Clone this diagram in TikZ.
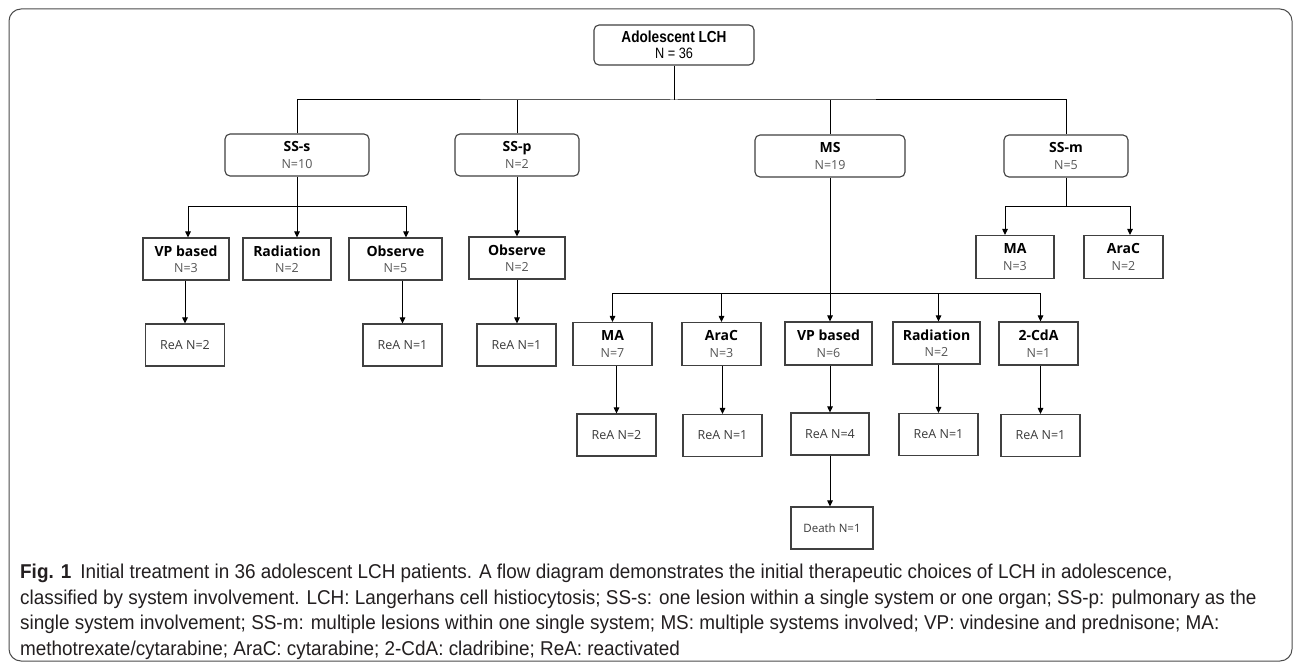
\documentclass[tikz,border=0pt]{standalone}
\usepackage{fontspec}
\setmainfont{Open Sans}
\newfontfamily\condfont[FakeStretch=0.85]{Liberation Sans}
\newfontfamily\capfont[FakeStretch=0.945]{Liberation Sans}
\usetikzlibrary{arrows.meta}
\definecolor{boxline}{HTML}{404040}
\definecolor{ntext}{HTML}{555555}
\definecolor{reatext}{HTML}{3A3A3A}
\definecolor{captext}{HTML}{231F20}
\tikzset{
  base/.style={draw=boxline, line width=1.1pt, align=center, inner sep=0pt, text=black,
               font=\fontsize{12.5}{16.5}\selectfont},
  rbox/.style={base, rounded corners=5pt, minimum height=42pt},
  sbox/.style={base, minimum height=42pt},
  rea/.style={base, minimum height=42pt, minimum width=79pt, font=\fontsize{12.5}{15}\selectfont, text=reatext},
  conn/.style={line width=1pt, draw=black},
  arr/.style={conn, -{Triangle[length=6pt,width=5.5pt]}},
}
\newcommand{\bt}[2]{{\fontsize{14}{16.5}\selectfont\bfseries #1}\\{\color{ntext}#2}}
\begin{document}
\begin{tikzpicture}[x=1pt,y=-1pt]
\useasboundingbox (0,0) rectangle (1295,668);
\fill[white] (0,0) rectangle (1295,668);
\draw[line width=1pt, draw=black!70, rounded corners=12pt] (9,9) rectangle (1292,661);

% level 0
\node[rbox, minimum width=160pt, minimum height=40pt, font=\condfont\fontsize{15}{16}\selectfont] (top) at (674,45)
  {{\fontsize{16}{16}\selectfont\bfseries Adolescent LCH}\\N = 36};

% level 1
\node[rbox, minimum width=144pt] (sss) at (297,155) {\bt{SS-s}{N=10}};
\node[rbox, minimum width=124pt] (ssp) at (517,155) {\bt{SS-p}{N=2}};
\node[rbox, minimum width=150pt] (ms) at (830,156) {\bt{MS}{N=19}};
\node[rbox, minimum width=124pt] (ssm) at (1066,156) {\bt{SS-m}{N=5}};

% level 2
\node[sbox, minimum width=86pt] (vp1) at (186,259) {\bt{VP based}{N=3}};
\node[sbox, minimum width=88pt] (rad1) at (287,259) {\bt{Radiation}{N=2}};
\node[sbox, minimum width=93pt] (obs1) at (395.5,259) {\bt{Observe}{N=5}};
\node[sbox, minimum width=96pt] (obs2) at (517,258) {\bt{Observe}{N=2}};
\node[sbox, minimum width=78pt, minimum height=43pt] (ma2) at (1015,257) {\bt{MA}{N=3}};
\node[sbox, minimum width=79pt, minimum height=43pt] (ara2) at (1123.5,257) {\bt{AraC}{N=2}};

% level 3 (SS branches)
\node[rea] (rea1) at (185,345) {ReA N=2};
\node[rea] (rea2) at (402.5,345) {ReA N=1};
\node[rea] (rea3) at (516.5,345) {ReA N=1};

% MS children
\node[sbox, minimum width=79pt, minimum height=43pt] (ma3) at (612.5,344) {\bt{MA}{N=7}};
\node[sbox, minimum width=79pt, minimum height=43pt] (ara3) at (721.5,344) {\bt{AraC}{N=3}};
\node[sbox, minimum width=87pt, minimum height=43pt] (vp3) at (828.5,343.5) {\bt{VP based}{N=6}};
\node[sbox, minimum width=87pt, minimum height=42pt] (rad3) at (936.5,343) {\bt{Radiation}{N=2}};
\node[sbox, minimum width=79pt, minimum height=43pt] (cda3) at (1038.5,343.5) {\bt{2-CdA}{N=1}};

\node[rea] (reama) at (616.5,435) {ReA N=2};
\node[rea] (reaara) at (722.5,435.5) {ReA N=1};
\node[rea, minimum width=78pt] (reavp) at (830,434) {ReA N=4};
\node[rea] (rearad) at (938.5,434.5) {ReA N=1};
\node[rea] (reacda) at (1040.5,435.5) {ReA N=1};
\node[rea, minimum width=82pt, font=\fontsize{11.5}{13}\selectfont] (death) at (832,528) {Death N=1};

% connectors level 0 -> 1
\coordinate (bus0) at (674,100);
\draw[conn] (top.south) -- (bus0);
\draw[conn] (sss.north) |- (bus0) -| (ssm.north);
\draw[conn] (ssp.north) -- (ssp.north |- bus0);
\draw[conn] (ms.north) -- (ms.north |- bus0);

% SS-s
\coordinate (bus1) at (297,207);
\draw[conn] (sss.south) -- (bus1);
\draw[arr] (bus1) -| ([xshift=2pt]vp1.north);
\draw[arr] (bus1) -- (bus1 |- rad1.north);
\draw[arr] (bus1) -| ([xshift=10.5pt]obs1.north);
\draw[arr] (rea1.north |- vp1.south) -- (rea1.north);
\draw[arr] (rea2.north |- obs1.south) -- (rea2.north);

% SS-p
\draw[arr] (ssp.south) -- (obs2.north);
\draw[arr] (obs2.south) -- (rea3.north -| obs2.south);

% SS-m
\coordinate (bus3) at (1066,207);
\draw[conn] (ssm.south) -- (bus3);
\draw[arr] (bus3) -| ([xshift=-10pt]ma2.north);
\draw[arr] (bus3) -| ([xshift=6.5pt]ara2.north);

% MS
\coordinate (bus2) at (830,293);
\draw[conn] (ms.south) -- (bus2);
\draw[arr] (bus2) -| (ma3.north);
\draw[arr] (bus2) -| (ara3.north);
\draw[arr] (bus2) -- (bus2 |- vp3.north);
\draw[arr] (bus2) -| (rearad.north |- rad3.north);
\draw[arr] (bus2) -| (reacda.north |- cda3.north);
\draw[arr] (reama.north |- ma3.south) -- (reama.north);
\draw[arr] (reaara.north |- ara3.south) -- (reaara.north);
\draw[arr] (reavp.north |- vp3.south) -- (reavp.north);
\draw[arr] (rearad.north |- rad3.south) -- (rearad.north);
\draw[arr] (reacda.north |- cda3.south) -- (reacda.north);
\draw[arr] (reavp.south) -- (death.north -| reavp.south);

% caption
\node[anchor=north west, align=left, inner sep=0pt, text=captext,
      font=\capfont\fontsize{20}{25.5}\selectfont] (cap) at (20,564)
{\textbf{Fig. 1}\hspace{0.45em}Initial treatment in 36 adolescent LCH patients. A flow diagram demonstrates the initial therapeutic choices of LCH in adolescence,\\
classified by system involvement. LCH: Langerhans cell histiocytosis; SS-s: one lesion within a single system or one organ; SS-p: pulmonary as the\\
single system involvement; SS-m: multiple lesions within one single system; MS: multiple systems involved; VP: vindesine and prednisone; MA:\\
methotrexate/cytarabine; AraC: cytarabine; 2-CdA: cladribine; ReA: reactivated};
\end{tikzpicture}
\end{document}
